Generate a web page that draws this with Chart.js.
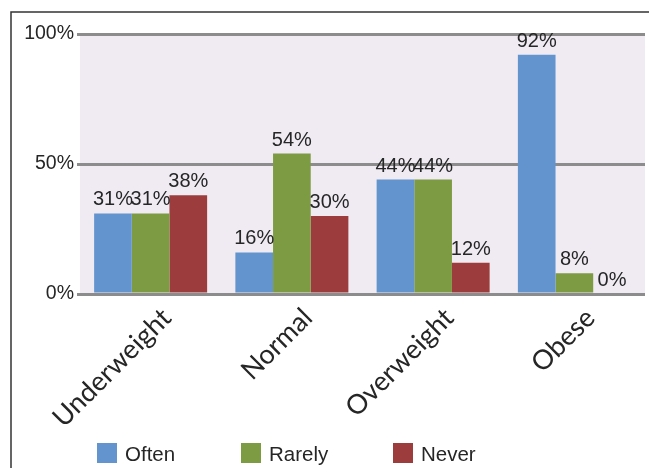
<!DOCTYPE html>
<html>
<head>
<meta charset="utf-8">
<script src="https://cdn.jsdelivr.net/npm/chart.js@4/dist/chart.umd.min.js"></script>
<style>
  html, body { margin: 0; padding: 0; background: #fff; }
  #wrap { width: 649px; height: 468px; }
</style>
</head>
<body>
<div id="wrap"><canvas id="bmiChart" width="649" height="468"></canvas></div>
<script>
const categories = ['Underweight', 'Normal', 'Overweight', 'Obese'];
const often = [31, 16, 44, 92];
const rarely = [31, 54, 44, 8];
const never = [38, 30, 12, 0];
const yTicks = [0, 50, 100];

const textFont = '"Liberation Sans", Arial, sans-serif';
const textColor = '#262626';

// background panel, outer frame and the legend row
const framePlugin = {
    id: 'frame',
    beforeDraw(chart) {
        const { ctx, chartArea } = chart;
        ctx.save();
        ctx.fillStyle = '#ffffff';
        ctx.fillRect(0, 0, chart.width, chart.height);
        ctx.fillStyle = '#f0ebf3';
        ctx.fillRect(chartArea.left, chartArea.top, chartArea.right - chartArea.left, chartArea.bottom - chartArea.top);
        ctx.strokeStyle = '#333333';
        ctx.lineWidth = 1.5;
        ctx.beginPath();
        ctx.moveTo(11, chart.height);
        ctx.lineTo(11, 12);
        ctx.lineTo(chart.width, 12);
        ctx.stroke();
        ctx.restore();
    },
    afterDraw(chart) {
        const { ctx } = chart;
        const legendX = [97, 241, 393];
        ctx.save();
        ctx.font = '20.5px ' + textFont;
        ctx.textBaseline = 'middle';
        ctx.textAlign = 'left';
        chart.data.datasets.forEach((ds, i) => {
            ctx.fillStyle = ds.backgroundColor;
            ctx.fillRect(legendX[i], 443, 20, 20);
            ctx.fillStyle = textColor;
            ctx.fillText(ds.label, legendX[i] + 28, 455);
        });
        ctx.restore();
    }
};

// percentage text above each bar
const valueLabels = {
    id: 'valueLabels',
    afterDatasetsDraw(chart) {
        const { ctx } = chart;
        ctx.save();
        ctx.font = '20px ' + textFont;
        ctx.fillStyle = textColor;
        ctx.textAlign = 'center';
        ctx.textBaseline = 'alphabetic';
        chart.data.datasets.forEach((ds, i) => {
            chart.getDatasetMeta(i).data.forEach((bar, j) => {
                ctx.fillText(ds.data[j] + '%', bar.x, bar.y - 8);
            });
        });
        ctx.restore();
    }
};

new Chart(document.getElementById('bmiChart'), {
    type: 'bar',
    data: {
        labels: categories,
        datasets: [
            { label: 'Often', data: often, backgroundColor: '#6394ce' },
            { label: 'Rarely', data: rarely, backgroundColor: '#7d9b42' },
            { label: 'Never', data: never, backgroundColor: '#9d3c3c' }
        ]
    },
    options: {
        responsive: false,
        animation: false,
        categoryPercentage: 0.8,
        barPercentage: 1.0,
        layout: { padding: { top: 34, right: 4, left: 0, bottom: 0 } },
        plugins: {
            legend: { display: false },
            tooltip: { enabled: false }
        },
        scales: {
            x: {
                grid: { display: false },
                border: { display: false },
                ticks: {
                    autoSkip: false,
                    minRotation: 45,
                    maxRotation: 45,
                    labelOffset: 16,
                    padding: 0,
                    color: textColor,
                    font: { family: 'Lato, "Open Sans", sans-serif', size: 27 }
                },
                afterFit(scale) { scale.height = 174; }
            },
            y: {
                min: 0,
                max: 100,
                border: { display: false },
                grid: { color: '#8c8c8c', lineWidth: 3, tickLength: 3 },
                afterBuildTicks(scale) {
                    scale.ticks = yTicks.map(v => ({ value: v }));
                },
                ticks: {
                    padding: 3,
                    color: textColor,
                    font: { family: textFont, size: 19.5 },
                    callback: v => v + '%'
                },
                afterFit(scale) { scale.width = 80; }
            }
        }
    },
    plugins: [framePlugin, valueLabels]
});
</script>
</body>
</html>
